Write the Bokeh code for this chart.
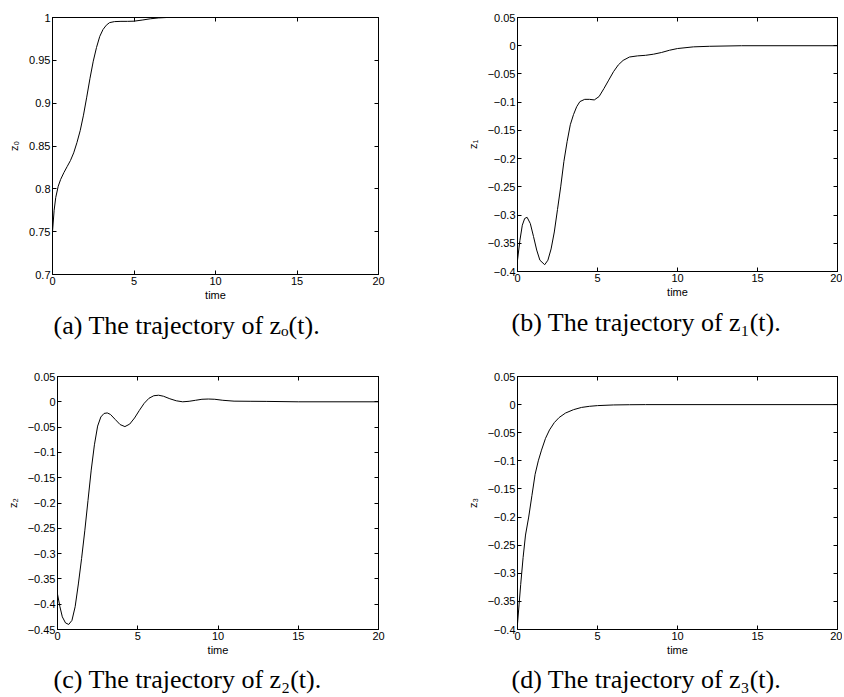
from bokeh.plotting import figure
from bokeh.layouts import row, column
from bokeh.models import (Range1d, LinearAxis, FixedTicker, CustomJSTickFormatter, Title,
                          CustomLabelingPolicy)
from bokeh.embed import file_html
from bokeh.resources import INLINE

# ---------------- data ----------------
x_ticks = [0, 5, 10, 15, 20]

t_z0 = [0, 0.1, 0.2, 0.35, 0.5, 0.7, 0.9, 1.1, 1.3, 1.5, 1.7, 1.9, 2.1, 2.3, 2.5,
        2.7, 2.9, 3.1, 3.3, 3.5, 3.8, 4.2, 4.6, 5.0, 5.5, 6.0, 6.5, 7.0, 8, 10, 12, 15, 20]
z0 = [0.750, 0.775, 0.790, 0.803, 0.811, 0.819, 0.826, 0.833, 0.842, 0.854, 0.868,
      0.886, 0.907, 0.929, 0.949, 0.965, 0.978, 0.986, 0.991, 0.994, 0.9952, 0.9955,
      0.9955, 0.9957, 0.9970, 0.9985, 0.9995, 1.0, 1.0, 1.0, 1.0, 1.0, 1.0]
z0_ticks = [0.7, 0.75, 0.8, 0.85, 0.9, 0.95, 1.0]

t_z1 = [0, 0.15, 0.3, 0.45, 0.6, 0.8, 1.0, 1.2, 1.4, 1.7, 1.9, 2.1, 2.3, 2.5, 2.7,
        2.9, 3.1, 3.3, 3.5, 3.7, 3.9, 4.2, 4.5, 4.8, 5.1, 5.4, 5.7, 6.0, 6.3, 6.6,
        7.0, 7.5, 8.0, 8.5, 9.0, 9.5, 10, 11, 12, 14, 20]
z1 = [-0.38, -0.345, -0.318, -0.306, -0.304, -0.315, -0.338, -0.362, -0.380, -0.388,
      -0.380, -0.360, -0.330, -0.290, -0.250, -0.205, -0.170, -0.140, -0.122, -0.108,
      -0.099, -0.095, -0.095, -0.096, -0.090, -0.076, -0.061, -0.046, -0.034, -0.026,
      -0.020, -0.018, -0.017, -0.015, -0.012, -0.008, -0.005, -0.002, -0.001, 0.0, 0.0]
z1_ticks = [-0.4, -0.35, -0.3, -0.25, -0.2, -0.15, -0.1, -0.05, 0, 0.05]

t_z2 = [0, 0.15, 0.3, 0.5, 0.7, 0.9, 1.1, 1.3, 1.5, 1.7, 1.9, 2.1, 2.3, 2.5, 2.7,
        2.9, 3.1, 3.3, 3.6, 3.9, 4.2, 4.5, 4.8, 5.1, 5.4, 5.7, 6.0, 6.3, 6.6, 7.0,
        7.4, 7.8, 8.2, 8.6, 9.0, 9.4, 9.8, 10.3, 11, 12, 13, 15, 20]
z2 = [-0.38, -0.405, -0.425, -0.437, -0.440, -0.432, -0.405, -0.360, -0.310, -0.255,
      -0.195, -0.135, -0.085, -0.048, -0.030, -0.023, -0.022, -0.025, -0.035, -0.045,
      -0.049, -0.044, -0.032, -0.017, -0.003, 0.007, 0.012, 0.013, 0.011, 0.006,
      0.002, 0.0, 0.001, 0.003, 0.005, 0.0055, 0.005, 0.003, 0.0013, 0.001, 0.0008,
      0.0, 0.0]
z2_ticks = [-0.45, -0.4, -0.35, -0.3, -0.25, -0.2, -0.15, -0.1, -0.05, 0, 0.05]

t_z3 = [0, 0.1, 0.2, 0.35, 0.5, 0.7, 0.9, 1.1, 1.3, 1.5, 1.75, 2.0, 2.3, 2.6, 3.0,
        3.5, 4.0, 4.5, 5, 6, 7, 8, 20]
z3 = [-0.39, -0.355, -0.320, -0.272, -0.232, -0.200, -0.162, -0.124, -0.100, -0.081,
      -0.060, -0.045, -0.032, -0.023, -0.015, -0.009, -0.005, -0.003, -0.0018,
      -0.0006, -0.0002, 0.0, 0.0]
z3_ticks = z1_ticks

captions = ["(a) The trajectory of zₒ(t).", "(b) The trajectory of z₁(t).",
            "(c) The trajectory of z₂(t).", "(d) The trajectory of z₃(t)."]
y_labels = ["z₀", "z₁", "z₂", "z₃"]

SANS = "Liberation Sans"
SERIF = "Liberation Serif"

fmt_code = "const v = Math.round(tick*100)/100; return String(v).replace('-', '\\u2212');"
blank_code = "return '';"
no_labels = "const all = Array.from(indices); for (const i of all) { indices.unset(i); } return indices;"


def style_axis(ax, labels=True):
    ax.axis_line_color = "black"
    ax.axis_line_width = 1
    ax.major_tick_in = 4
    ax.major_tick_out = 0
    ax.minor_tick_in = 0
    ax.minor_tick_out = 0
    ax.major_tick_line_color = "black"
    ax.major_label_text_font = SANS
    ax.major_label_text_color = "black"
    if labels:
        ax.major_label_text_font_size = "11px"
        ax.major_label_standoff = 2
    else:
        ax.major_label_text_font_size = "1px"
        ax.major_label_standoff = 0
        ax.major_label_policy = CustomLabelingPolicy(code=no_labels)
    ax.axis_label_text_font = SANS
    ax.axis_label_text_font_size = "11px"
    ax.axis_label_text_font_style = "normal"
    ax.axis_label_text_color = "black"


def make(tt, yy, yr, yticks, ylabel, caption, fw, fh, bl, bt, bb, br,
         cap_offset, cap_standoff):
    p = figure(frame_width=fw, frame_height=fh,
               x_range=Range1d(0, 20), y_range=Range1d(*yr),
               x_axis_location=None, y_axis_location=None,
               output_backend="svg", toolbar_location=None,
               min_border_left=bl, min_border_top=bt,
               min_border_bottom=bb, min_border_right=br)
    p.outline_line_color = "black"
    p.outline_line_width = 1
    p.background_fill_color = "white"
    p.border_fill_color = "white"
    p.xgrid.grid_line_color = None
    p.ygrid.grid_line_color = None

    bottom = LinearAxis(ticker=FixedTicker(ticks=x_ticks),
                        formatter=CustomJSTickFormatter(code=fmt_code),
                        axis_label="time")
    style_axis(bottom)
    bottom.axis_label_standoff = 1
    left = LinearAxis(ticker=FixedTicker(ticks=yticks),
                      formatter=CustomJSTickFormatter(code=fmt_code),
                      axis_label=ylabel)
    style_axis(left)
    left.axis_label_standoff = 6
    top = LinearAxis(ticker=FixedTicker(ticks=x_ticks),
                     formatter=CustomJSTickFormatter(code=blank_code))
    style_axis(top, labels=False)
    right = LinearAxis(ticker=FixedTicker(ticks=yticks),
                       formatter=CustomJSTickFormatter(code=blank_code))
    style_axis(right, labels=False)
    p.add_layout(bottom, "below")
    p.add_layout(left, "left")
    p.add_layout(top, "above")
    p.add_layout(right, "right")

    p.line(tt, yy, line_color="black", line_width=1)

    p.add_layout(Title(text=caption, text_font=SERIF, text_font_size="26px",
                       text_font_style="normal", text_color="black",
                       align="left", offset=cap_offset, standoff=cap_standoff), "below")
    return p


# the Bokeh page template sets the body margin to 0, so borders are page coordinates
pa = make(t_z0, z0, (0.7, 1.0), z0_ticks, y_labels[0], captions[0],
          326, 257, 52, 14, 74, 10, 1, 11)
pb = make(t_z1, z1, (-0.4, 0.05), z1_ticks, y_labels[1], captions[1],
          320, 254, 129, 17, 74, 5, -6, 11)
pc = make(t_z2, z2, (-0.45, 0.05), z2_ticks, y_labels[2], captions[2],
          321, 253, 57, 31, 67, 10, -4, 8)
pd = make(t_z3, z3, (-0.4, 0.05), z3_ticks, y_labels[3], captions[3],
          320, 253, 129, 31, 67, 5, -6, 8)

layout = column(row(pa, pb, spacing=0), row(pc, pd, spacing=0), spacing=0)

open("out.html", "w").write(file_html(layout, INLINE))
